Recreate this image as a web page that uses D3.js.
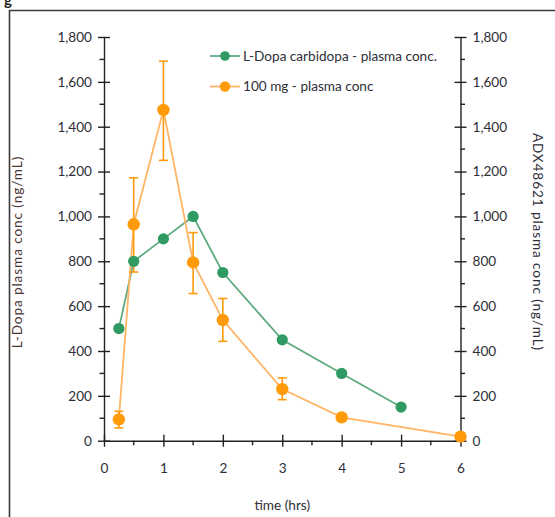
<!DOCTYPE html>
<html><head><meta charset="utf-8">
<script src="https://cdn.jsdelivr.net/npm/d3@7"></script>
<style>
body{margin:0;background:#fff;}
svg{display:block;font-family:Lato,"Open Sans",sans-serif;}
</style></head>
<body><svg id="c" width="555" height="517"></svg>
<script>
// ---- data ----
const timeTicks = [0,1,2,3,4,5,6];
const concTicks = [0,200,400,600,800,1000,1200,1400,1600,1800];
const ldopaTime = [0.25,0.5,1,1.5,2,3,4,5];
const ldopaConc = [500,800,900,1000,750,450,300,150];
const adxTime = [0.25,0.5,1,1.5,2,3,4,6];
const adxConc = [95,965,1475,795,538,230,104,18];
const adxErrLow = [57,752,1250,656,443,183,88,18];
const adxErrHigh = [131,1172,1692,928,634,280,120,18];
const legendLabels = ["L-Dopa carbidopa - plasma conc.","100 mg - plasma conc"];

const svg = d3.select("#c");
const X0=104, X1=460.5, Y0=440.7, Y1=37;
const x = d3.scaleLinear().domain([0,6]).range([X0,X1]);
const y = d3.scaleLinear().domain([0,1800]).range([Y0,Y1]);
const green="#2f9a62", greenLine="#5eab80", orange="#ff9a0a", orangeLine="#ffb565";
const txt="#2e2e38";
const FS=13.6;

// frame
svg.append("path").attr("d","M9.5,560 L9.5,10.5 L560,10.5").attr("fill","none").attr("stroke","#3a3a3a").attr("stroke-width",1.6);
svg.append("text").attr("x",4).attr("y",5).attr("font-weight","bold").attr("font-size",15).attr("fill","#222").text("g");

// axes
const minor = d3.range(100,1800,200);
const minorX = d3.range(0.5,6,1);
function styleAxis(g){g.selectAll("path,line").attr("stroke","#222").attr("stroke-width",1.4);g.selectAll("text").attr("fill",txt).attr("font-size",FS).attr("font-family","Lato,sans-serif");}
// left
const gl = svg.append("g").attr("transform",`translate(${X0},0)`);
gl.call(d3.axisLeft(y).tickValues(concTicks).tickFormat(d3.format(",")).tickSize(6).tickSizeOuter(0).tickPadding(6));
gl.selectAll(".tick line").attr("x2",6).attr("x1",-6);
gl.selectAll(".minor").data(minor).enter().append("line").attr("x1",-4.5).attr("x2",0).attr("y1",d=>y(d)).attr("y2",d=>y(d));
styleAxis(gl);
// right
const gr = svg.append("g").attr("transform",`translate(${X1},0)`);
gr.call(d3.axisRight(y).tickValues(concTicks).tickFormat(d3.format(",")).tickSize(6).tickSizeOuter(0).tickPadding(6));
gr.selectAll(".tick line").attr("x1",-6).attr("x2",6);
gr.selectAll(".minor").data(minor).enter().append("line").attr("x1",0).attr("x2",4.5).attr("y1",d=>y(d)).attr("y2",d=>y(d));
styleAxis(gr);
// bottom
const gb = svg.append("g").attr("transform",`translate(0,${Y0})`);
gb.call(d3.axisBottom(x).tickValues(timeTicks).tickFormat(d3.format("d")).tickSize(6).tickSizeOuter(0).tickPadding(17));
gb.selectAll(".tick line").attr("y1",-6).attr("y2",6);
gb.selectAll(".minor").data(minorX).enter().append("line").attr("y1",0).attr("y2",4.5).attr("x1",d=>x(d)).attr("x2",d=>x(d));
styleAxis(gb);

// axis titles
svg.append("text").attr("x",(X0+X1)/2).attr("y",510).attr("text-anchor","middle").attr("font-size",FS).attr("fill",txt).text("time (hrs)");
svg.append("text").attr("transform","translate(22,252) rotate(-90)").attr("text-anchor","middle").attr("font-size",FS).attr("letter-spacing",0.9).attr("fill","#4a3434").text("L-Dopa plasma conc (ng/mL)");
svg.append("text").attr("transform","translate(533,242) rotate(90)").attr("text-anchor","middle").attr("font-size",FS).attr("letter-spacing",0.9).attr("fill",txt).text("ADX48621 plasma conc (ng/mL)");

// lines
const line = d3.line().x(d=>x(d[0])).y(d=>y(d[1]));
const gData = ldopaTime.map((t,i)=>[t,ldopaConc[i]]);
const oData = adxTime.map((t,i)=>[t,adxConc[i]]);
svg.append("path").datum(gData).attr("d",line).attr("fill","none").attr("stroke",greenLine).attr("stroke-width",1.8);
svg.append("path").datum(oData).attr("d",line).attr("fill","none").attr("stroke",orangeLine).attr("stroke-width",1.8);

// error bars
const eg = svg.append("g").attr("stroke",orange).attr("stroke-width",1.6);
adxTime.forEach((t,i)=>{
  if(adxErrHigh[i]-adxErrLow[i]<1) return;
  const cx=x(t);
  eg.append("line").attr("x1",cx).attr("x2",cx).attr("y1",y(adxErrLow[i])).attr("y2",y(adxErrHigh[i]));
  [adxErrLow[i],adxErrHigh[i]].forEach(v=>eg.append("line").attr("x1",cx-4.5).attr("x2",cx+4.5).attr("y1",y(v)).attr("y2",y(v)));
});

// markers
svg.append("g").selectAll("circle").data(gData).enter().append("circle").attr("cx",d=>x(d[0])).attr("cy",d=>y(d[1])).attr("r",5.6).attr("fill",green);
svg.append("g").selectAll("circle").data(oData).enter().append("circle").attr("cx",d=>x(d[0])).attr("cy",d=>y(d[1])).attr("r",6.2).attr("fill",orange);

// legend
const lg = svg.append("g");
const lcol=[[greenLine,green],[orangeLine,orange]];
legendLabels.forEach((l,i)=>{
  const yy=56+i*30.5;
  lg.append("line").attr("x1",210).attr("x2",240).attr("y1",yy).attr("y2",yy).attr("stroke",lcol[i][0]).attr("stroke-width",1.8);
  lg.append("circle").attr("cx",225).attr("cy",yy).attr("r",i?5.2:4.8).attr("fill",lcol[i][1]);
  lg.append("text").attr("x",243).attr("y",yy+4.8).attr("font-size",FS).attr("fill",txt).text(l);
});
</script></body></html>
